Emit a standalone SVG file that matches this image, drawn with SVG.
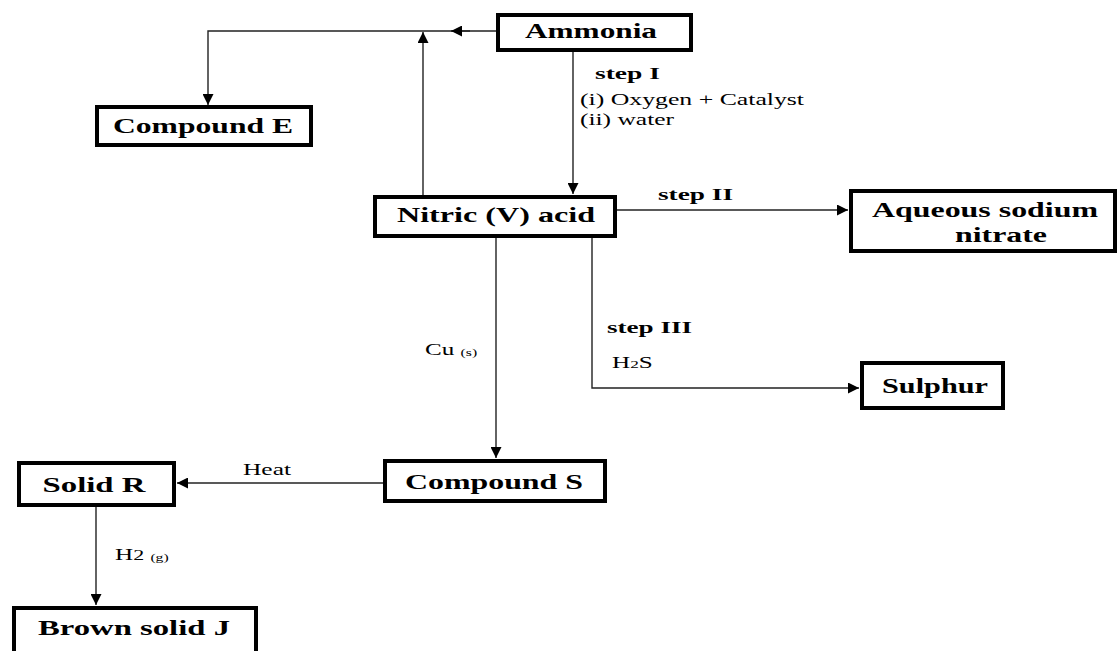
<svg xmlns="http://www.w3.org/2000/svg" width="1117" height="651" viewBox="0 0 1117 651">
<defs>
<style>
.box{fill:#fff;stroke:#000;stroke-width:4}
.lbl{font-family:"Liberation Serif","Times New Roman",serif;font-weight:bold;font-size:20px;fill:#000;text-anchor:middle}
.step{font-family:"Liberation Serif","Times New Roman",serif;font-weight:bold;font-size:17px;fill:#000}
.reg{font-family:"Liberation Serif","Times New Roman",serif;font-size:16px;fill:#000}
.con{fill:none;stroke:#222;stroke-width:1.4}
</style>
<marker id="ah" viewBox="0 0 10 10" refX="10" refY="5" markerWidth="11" markerHeight="11" markerUnits="userSpaceOnUse" orient="auto">
<path d="M0,0 L10,5 L0,10 Z" fill="#000"/>
</marker>
</defs>
<rect width="1117" height="651" fill="#fff"/>
<g id="connectors">
<path class="con" d="M496,31 H208 V105" marker-end="url(#ah)"/>
<path class="con" d="M470,31 H451" marker-end="url(#ah)"/>
<path class="con" d="M423,195 V32" marker-end="url(#ah)"/>
<path class="con" d="M573,52 V194" marker-end="url(#ah)"/>
<path class="con" d="M617,210 H848" marker-end="url(#ah)"/>
<path class="con" d="M592,238 V388 H859" marker-end="url(#ah)"/>
<path class="con" d="M496,238 V458" marker-end="url(#ah)"/>
<path class="con" d="M383,483 H177" marker-end="url(#ah)"/>
<path class="con" d="M96,507 V605" marker-end="url(#ah)"/>
<text class="step" x="595" y="79" textLength="65" lengthAdjust="spacingAndGlyphs">step I</text>
<text class="reg" x="580" y="105" textLength="224" lengthAdjust="spacingAndGlyphs">(i) Oxygen + Catalyst</text>
<text class="reg" x="580" y="125" textLength="94" lengthAdjust="spacingAndGlyphs">(ii) water</text>
<text class="step" x="658" y="200" textLength="75" lengthAdjust="spacingAndGlyphs">step II</text>
<text class="step" x="607" y="333" textLength="85" lengthAdjust="spacingAndGlyphs">step III</text>
<text class="reg" transform="translate(612,368) scale(1.57,1)">H<tspan font-size="11">2</tspan>S</text>
<text class="reg" transform="translate(425,355) scale(1.57,1)">Cu <tspan font-size="10" dy="1">(s)</tspan></text>
<text class="reg" x="243" y="475" textLength="48" lengthAdjust="spacingAndGlyphs">Heat</text>
<text class="reg" transform="translate(115,560) scale(1.57,1)">H<tspan font-size="14">2</tspan> <tspan font-size="10" dy="1">(g)</tspan></text>
</g>
<g id="ammonia">
<rect class="box" x="498" y="15" width="193" height="35"/>
<text class="lbl" x="591" y="38" textLength="132" lengthAdjust="spacingAndGlyphs">Ammonia</text>
</g>
<g id="compound-e">
<rect class="box" x="97" y="107" width="214" height="38"/>
<text class="lbl" x="203" y="133" textLength="180" lengthAdjust="spacingAndGlyphs">Compound E</text>
</g>
<g id="nitric-acid">
<rect class="box" x="375" y="197" width="240" height="39"/>
<text class="lbl" x="496" y="222" textLength="198" lengthAdjust="spacingAndGlyphs">Nitric (V) acid</text>
</g>
<g id="sodium-nitrate">
<rect class="box" x="851" y="191" width="264" height="60"/>
<text class="lbl" x="985" y="217" textLength="226" lengthAdjust="spacingAndGlyphs">Aqueous sodium</text>
<text class="lbl" x="1001" y="242" textLength="92" lengthAdjust="spacingAndGlyphs">nitrate</text>
</g>
<g id="sulphur">
<rect class="box" x="862" y="363" width="141" height="45"/>
<text class="lbl" x="935" y="393" textLength="106" lengthAdjust="spacingAndGlyphs">Sulphur</text>
</g>
<g id="compound-s">
<rect class="box" x="385" y="461" width="220" height="40"/>
<text class="lbl" x="494" y="489" textLength="178" lengthAdjust="spacingAndGlyphs">Compound S</text>
</g>
<g id="solid-r">
<rect class="box" x="19" y="463" width="155" height="42"/>
<text class="lbl" x="94" y="492" textLength="103" lengthAdjust="spacingAndGlyphs">Solid R</text>
</g>
<g id="brown-solid-j">
<rect class="box" x="14" y="608" width="242" height="50"/>
<text class="lbl" x="134" y="635" textLength="192" lengthAdjust="spacingAndGlyphs">Brown solid J</text>
</g>
</svg>
